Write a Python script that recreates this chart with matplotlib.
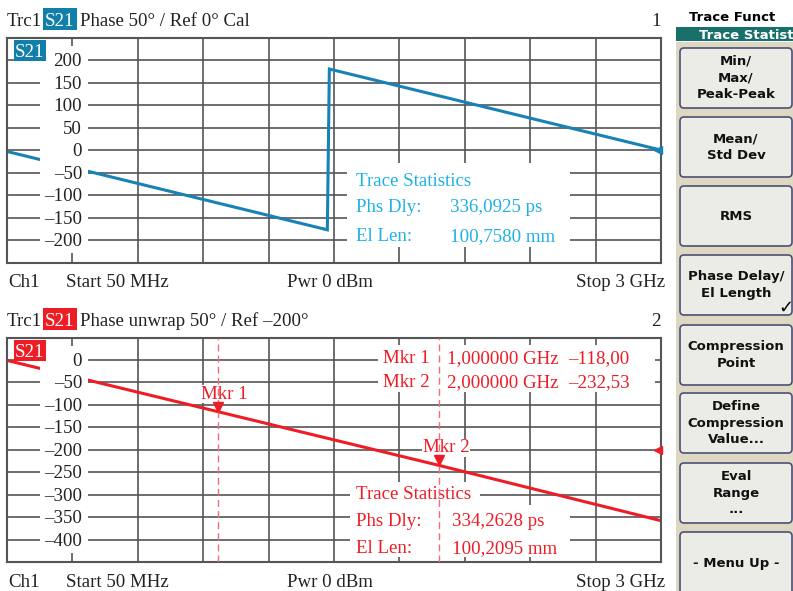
import numpy as np
import matplotlib
matplotlib.use("Agg")
import matplotlib.pyplot as plt
import matplotlib.transforms as mtransforms
from matplotlib.patches import Rectangle, FancyBboxPatch

# ---------------- data ----------------
freq_top = [0.05, 1.495, 1.504, 3.0]        # GHz
phase_top = [-3, -177, 180, 0]              # deg, wrapped phase
freq_bot = [0.05, 1.0, 2.0, 3.0]            # GHz
phase_bot = [-1, -115, -235, -358]          # deg, unwrapped phase
f_start, f_stop = 0.05, 3.0

top_yticks = [200, 150, 100, 50, 0, -50, -100, -150, -200]
bot_yticks = [0, -50, -100, -150, -200, -250, -300, -350, -400]
top_ref, bot_ref = 0, -200

mkr_names = ["Mkr 1", "Mkr 2"]
mkr_freq = [1.0, 2.0]
mkr_freq_txt = ["1,000000 GHz", "2,000000 GHz"]
mkr_val_txt = ["\u2013118,00", "\u2013232,53"]

top_stats = ["336,0925 ps", "100,7580 mm"]
bot_stats = ["334,2628 ps", "100,2095 mm"]

softkeys = ["Min/\nMax/\nPeak-Peak", "Mean/\nStd Dev", "RMS",
            "Phase Delay/\nEl Length", "Compression\nPoint",
            "Define\nCompression\nValue...", "Eval\nRange\n...", "- Menu Up -"]

# ---------------- style ----------------
W, H = 793, 591
BLUE = "#1782b5"
BLUE_TXT = "#1fb0e6"
BLUE_BOX = "#117fa9"
RED = "#ee1c25"
RED_DASH = "#f26b7a"
GRID = "#555555"
SERIF = ["Liberation Serif", "DejaVu Serif"]
FS = 13.6

fig = plt.figure(figsize=(W / 100, H / 100), dpi=100)
fig.patch.set_facecolor("white")

# overlay axes in pixel coordinates (y downward)
ov = fig.add_axes([0, 0, 1, 1], zorder=10)
ov.set_xlim(0, W)
ov.set_ylim(H, 0)
ov.axis("off")
ov.patch.set_alpha(0)


def add_ax(L, T, R, B):
    ax = fig.add_axes([L / W, 1 - B / H, (R - L) / W, (B - T) / H])
    ax.box = (L, T, R, B)
    return ax


def P(ax, x, y):
    L, T, R, B = ax.box
    return ((x - L) / (R - L), (B - y) / (B - T))


def setup(ax, yticks_all, ylim):
    ax.set_xlim(f_start, f_stop)
    ax.set_ylim(*ylim)
    ax.set_xticks(np.linspace(f_start, f_stop, 11))
    ax.set_yticks(np.arange(ylim[0], ylim[1] + 1, 50))
    ax.grid(True, color=GRID, lw=1.2)
    ax.set_axisbelow(True)
    ax.tick_params(length=0, labelbottom=False, labelleft=False)
    for s in ax.spines.values():
        s.set_color(GRID)
        s.set_linewidth(1.5)


def ytick_labels(ax, labels, col_top, col_bot):
    x0, y0 = P(ax, 40, col_bot)
    x1, y1 = P(ax, 88, col_top)
    ax.add_patch(Rectangle((x0, y0), x1 - x0, y1 - y0, transform=ax.transAxes,
                           facecolor="white", edgecolor="none", zorder=3))
    tr = mtransforms.blended_transform_factory(ax.transAxes, ax.transData)
    tr = mtransforms.offset_copy(tr, fig=fig, x=0, y=-6, units="dots")
    for v in labels:
        s = str(v) if v >= 0 else "\u2013" + str(-v)
        ax.text(P(ax, 82, 0)[0], v, s, transform=tr, ha="right", va="baseline",
                fontsize=FS, family=SERIF, color="#222222", zorder=4)


def white_box(ax, x0, y0, x1, y1):
    a, b = P(ax, x0, y1)
    c, d = P(ax, x1, y0)
    ax.add_patch(Rectangle((a, b), c - a, d - b, transform=ax.transAxes,
                           facecolor="white", edgecolor="none", zorder=3))


def ptext(ax, x, y, s, color, ha="left", **kw):
    ax.text(*P(ax, x, y), s, transform=ax.transAxes, ha=ha, va="baseline",
            fontsize=FS, family=SERIF, color=color, zorder=4, **kw)


def s21_box(ax, color, x0, y0):
    a, b = P(ax, x0, y0 + 21)
    c, d = P(ax, x0 + 32, y0)
    ax.add_patch(Rectangle((a, b), c - a, d - b, transform=ax.transAxes,
                           facecolor=color, edgecolor="none", zorder=6))
    ax.text(*P(ax, x0 + 16, y0 + 17), "S21", transform=ax.transAxes, ha="center",
            va="baseline", fontsize=FS, family=SERIF, color="white", zorder=7)


# ---------------- top diagram ----------------
ax1 = add_ax(7, 37.5, 661, 262.7)
setup(ax1, top_yticks, (-250, 250))
ax1.plot(freq_top, phase_top, color=BLUE, lw=2.2, zorder=2, solid_joinstyle="miter")
ytick_labels(ax1, top_yticks, 46, 253)
white_box(ax1, 347, 163, 570, 247)
ptext(ax1, 356, 186, "Trace Statistics", BLUE_TXT)
ptext(ax1, 356, 212, "Phs Dly:", BLUE_TXT)
ptext(ax1, 450, 212, top_stats[0], BLUE_TXT)
ptext(ax1, 356, 241, "El Len:", BLUE_TXT)
ptext(ax1, 450, 241, top_stats[1], BLUE_TXT)
s21_box(ax1, BLUE_BOX, 14, 40)
ax1.plot([f_stop], [top_ref], marker="<", color=BLUE, ms=6, clip_on=False, zorder=6,
         transform=mtransforms.offset_copy(ax1.transData, fig=fig, x=-3, y=0, units="dots"))

# ---------------- bottom diagram ----------------
ax2 = add_ax(7, 337.5, 661, 562)
setup(ax2, bot_yticks, (-450, 50))
ax2.plot(freq_bot, phase_bot, color=RED, lw=2.2, zorder=2)
ytick_labels(ax2, bot_yticks, 346, 553)
# marker table
white_box(ax2, 378, 345, 655, 392)
for i, nm in enumerate(mkr_names):
    yb = 363 + 24 * i
    ptext(ax2, 383, yb, nm, RED)
    ptext(ax2, 447, yb, mkr_freq_txt[i], RED)
    ptext(ax2, 568, yb, mkr_val_txt[i], RED)
# statistics
white_box(ax2, 350, 482, 480, 505)
white_box(ax2, 350, 505, 570, 557)
ptext(ax2, 356, 499, "Trace Statistics", RED)
ptext(ax2, 356, 526, "Phs Dly:", RED)
ptext(ax2, 452, 526, bot_stats[0], RED)
ptext(ax2, 356, 553, "El Len:", RED)
ptext(ax2, 452, 553, bot_stats[1], RED)
# markers
for i, f in enumerate(mkr_freq):
    yv = np.interp(f, freq_bot, phase_bot)
    ax2.axvline(f, color=RED_DASH, lw=1.0, ls=(0, (5, 3)), zorder=5)
    ax2.plot([f], [yv], marker="v", color=RED, ms=7, zorder=6, ls="none",
             transform=mtransforms.offset_copy(ax2.transData, fig=fig, x=0, y=5, units="dots"))
    tr = mtransforms.offset_copy(ax2.transData, fig=fig, x=7, y=13, units="dots")
    ax2.text(f, yv, mkr_names[i], transform=tr, ha="center", va="baseline",
             fontsize=FS, family=SERIF, color=RED, zorder=4,
             bbox=dict(facecolor="white", edgecolor="none", pad=0.5))
s21_box(ax2, RED, 14, 340)
ax2.plot([f_stop], [bot_ref], marker="<", color=RED, ms=6, clip_on=False, zorder=6,
         transform=mtransforms.offset_copy(ax2.transData, fig=fig, x=-3, y=0, units="dots"))

# ---------------- headers / footers ----------------
def otext(x, y, s, ha="left", color="#222222", **kw):
    ov.text(x, y, s, ha=ha, va="baseline", fontsize=FS, family=SERIF, color=color, **kw)

for (y0, col, title, num) in [(0, BLUE_BOX, "Phase 50\u00b0 / Ref 0\u00b0 Cal", "1"),
                               (300, RED, "Phase unwrap 50\u00b0 / Ref \u2013200\u00b0", "2")]:
    otext(7, y0 + 26, "Trc1")
    ov.add_patch(Rectangle((43, y0 + 8), 34, 22, facecolor=col, edgecolor="none"))
    otext(60, y0 + 26, "S21", ha="center", color="white")
    otext(80, y0 + 26, title)
    otext(661, y0 + 26, num, ha="right")

for yb in (287, 587):
    otext(8, yb, "Ch1")
    otext(66, yb, "Start 50 MHz")
    otext(287, yb, "Pwr 0 dBm")
    otext(665, yb, "Stop 3 GHz", ha="right")

# ---------------- soft key panel ----------------
SANS = "DejaVu Sans"
ov.add_patch(Rectangle((676, 42), W - 676, H - 42, facecolor="#ddd8c2", edgecolor="none"))
ov.text(689, 21, "Trace Funct", fontsize=9.5, family=SANS, weight="bold",
        color="black", va="baseline")
ov.add_patch(Rectangle((676, 27), W - 676, 14, facecolor="#18706b", edgecolor="none"))
ov.text(699, 39, "Trace Statist", fontsize=9.5, family=SANS, weight="bold",
        color="white", va="baseline")
btn_top = [48, 117, 186, 255, 325, 393, 463, 532]
for i, lab in enumerate(softkeys):
    t = btn_top[i]
    h = 60 if i < 7 else 70
    ov.add_patch(FancyBboxPatch((680, t), 112, h,
                                boxstyle="round,pad=0,rounding_size=4",
                                facecolor="#ecece6", edgecolor="#4e4e78", lw=1.2))
    cy = t + 30 if i < 7 else 563
    ov.text(736, cy, lab, ha="center", va="center", fontsize=9.5, family=SANS,
            weight="bold", color="#111111", linespacing=1.38)
ov.text(785.5, 308, "\u2713", ha="center", va="center", fontsize=13, family=SANS,
        weight="bold", color="black")

fig.savefig("out.png", dpi=100)
